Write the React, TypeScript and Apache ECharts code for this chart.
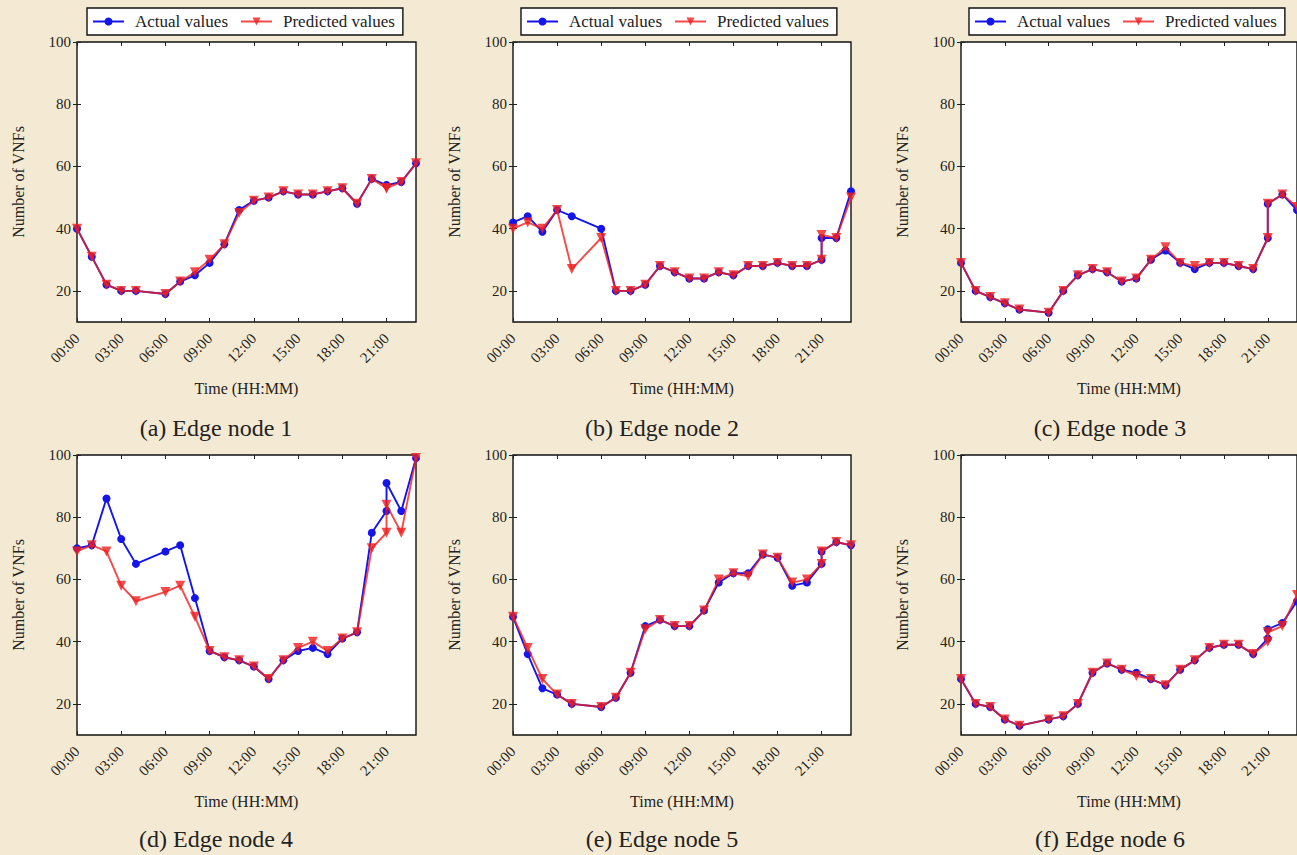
import React, { useEffect, useRef } from "react";
import * as echarts from "echarts";

// ---- data ----
const hours = [0, 1, 2, 3, 4, 6, 7, 8, 9, 10, 11, 12, 13, 14, 15, 16, 17, 18, 19, 20, 21, 21, 22, 23];
const xTicks = [0, 3, 6, 9, 12, 15, 18, 21];
const yTicks = [20, 40, 60, 80, 100];
const captions = ["(a) Edge node 1", "(b) Edge node 2", "(c) Edge node 3", "(d) Edge node 4", "(e) Edge node 5", "(f) Edge node 6"];
const seriesNames = ["Actual values", "Predicted values"];

const actual1 = [40, 31, 22, 20, 20, 19, 23, 25, 29, 35, 46, 49, 50, 52, 51, 51, 52, 53, 48, 56, 54, 54, 55, 61];
const predicted1 = [40, 31, 22, 20, 20, 19, 23, 26, 30, 35, 45, 49, 50, 52, 51, 51, 52, 53, 48, 56, 53, 53, 55, 61];

const actual2 = [42, 44, 39, 46, 44, 40, 20, 20, 22, 28, 26, 24, 24, 26, 25, 28, 28, 29, 28, 28, 30, 37, 37, 52];
const predicted2 = [40, 42, 40, 46, 27, 37, 20, 20, 22, 28, 26, 24, 24, 26, 25, 28, 28, 29, 28, 28, 30, 38, 37, 50];

const actual3 = [29, 20, 18, 16, 14, 13, 20, 25, 27, 26, 23, 24, 30, 33, 29, 27, 29, 29, 28, 27, 37, 48, 51, 46];
const predicted3 = [29, 20, 18, 16, 14, 13, 20, 25, 27, 26, 23, 24, 30, 34, 29, 28, 29, 29, 28, 27, 37, 48, 51, 47];

const actual4 = [70, 71, 86, 73, 65, 69, 71, 54, 37, 35, 34, 32, 28, 34, 37, 38, 36, 41, 43, 75, 82, 91, 82, 99];
const predicted4 = [69, 71, 69, 58, 53, 56, 58, 48, 37, 35, 34, 32, 28, 34, 38, 40, 37, 41, 43, 70, 75, 84, 75, 99];

const actual5 = [48, 36, 25, 23, 20, 19, 22, 30, 45, 47, 45, 45, 50, 59, 62, 62, 68, 67, 58, 59, 65, 69, 72, 71];
const predicted5 = [48, 38, 28, 23, 20, 19, 22, 30, 44, 47, 45, 45, 50, 60, 62, 61, 68, 67, 59, 60, 65, 69, 72, 71];

const actual6 = [28, 20, 19, 15, 13, 15, 16, 20, 30, 33, 31, 30, 28, 26, 31, 34, 38, 39, 39, 36, 41, 44, 46, 53];
const predicted6 = [28, 20, 19, 15, 13, 15, 16, 20, 30, 33, 31, 29, 28, 26, 31, 34, 38, 39, 39, 36, 40, 43, 45, 55];

const actualAll = [actual1, actual2, actual3, actual4, actual5, actual6];
const predictedAll = [predicted1, predicted2, predicted3, predicted4, predicted5, predicted6];

// ---- layout / style ----
const SERIF = '"Liberation Serif", "Times New Roman", Times, serif';
const BG = "#f4ead3";
const BLUE = "#1414ec";
const RED = "#f01e1e";
const cols = [
  { left: 77, width: 339, cap: 216, legend: 87 },
  { left: 513, width: 338, cap: 662, legend: 521 },
  { left: 961, width: 338, cap: 1110, legend: 969 },
];
const rows = [
  { top: 42, height: 280, cap: 428 },
  { top: 455, height: 280, cap: 839 },
];

const fmtHour = (v: number) => `${String(v).padStart(2, "0")}:00`;

function buildOption() {
  const grid: any[] = [];
  const xAxis: any[] = [];
  const yAxis: any[] = [];
  const series: any[] = [];
  const graphic: any[] = [];
  const legend: any[] = [];

  for (let i = 0; i < 6; i++) {
    const r = rows[Math.floor(i / 3)];
    const c = cols[i % 3];
    grid.push({
      left: c.left,
      top: r.top,
      width: c.width,
      height: r.height,
      show: true,
      backgroundColor: "#ffffff",
      borderColor: "#111",
      borderWidth: 1.4,
    });
    const tickStyle = { color: "#222", width: 1 };
    xAxis.push({
      type: "value",
      gridIndex: i,
      min: 0,
      max: 23,
      position: "bottom",
      axisLine: { show: false },
      axisTick: { show: true, inside: true, length: 4, customValues: xTicks, lineStyle: tickStyle },
      axisLabel: {
        customValues: xTicks,
        rotate: 45,
        margin: 14,
        formatter: (v: number) => fmtHour(v),
        fontFamily: SERIF,
        fontSize: 15,
        color: "#222",
      },
      splitLine: { show: false },
      name: "Time (HH:MM)",
      nameLocation: "middle",
      nameGap: 58,
      nameTextStyle: { fontFamily: SERIF, fontSize: 16, color: "#222" },
    });
    xAxis.push({
      type: "value",
      gridIndex: i,
      min: 0,
      max: 23,
      position: "top",
      axisLine: { show: false },
      axisTick: { show: true, inside: true, length: 4, customValues: xTicks, lineStyle: tickStyle },
      axisLabel: { show: false },
      splitLine: { show: false },
    });
    yAxis.push({
      type: "value",
      gridIndex: i,
      min: 10,
      max: 100,
      position: "left",
      axisLine: { show: false },
      axisTick: { show: true, inside: true, length: 4, customValues: yTicks, lineStyle: tickStyle },
      axisLabel: { customValues: yTicks, margin: 6, fontFamily: SERIF, fontSize: 15, color: "#222" },
      splitLine: { show: false },
      name: "Number of VNFs",
      nameLocation: "middle",
      nameRotate: 90,
      nameGap: 51,
      nameTextStyle: { fontFamily: SERIF, fontSize: 16, color: "#222" },
    });
    yAxis.push({
      type: "value",
      gridIndex: i,
      min: 10,
      max: 100,
      position: "right",
      axisLine: { show: false },
      axisTick: { show: true, inside: true, length: 4, customValues: yTicks, lineStyle: tickStyle },
      axisLabel: { show: false },
      splitLine: { show: false },
    });

    series.push({
      type: "line",
      name: seriesNames[0],
      xAxisIndex: 2 * i,
      yAxisIndex: 2 * i,
      data: hours.map((h, k) => [h, actualAll[i][k]]),
      symbol: "circle",
      symbolSize: 8,
      clip: false,
      lineStyle: { color: BLUE, width: 1.9 },
      itemStyle: { color: BLUE },
      z: 2,
    });
    series.push({
      type: "line",
      name: seriesNames[1],
      xAxisIndex: 2 * i,
      yAxisIndex: 2 * i,
      data: hours.map((h, k) => [h, predictedAll[i][k]]),
      symbol: "triangle",
      symbolRotate: 180,
      symbolSize: 10,
      clip: false,
      lineStyle: { color: RED, width: 1.9, opacity: 0.8 },
      itemStyle: { color: RED, opacity: 0.8 },
      z: 3,
    });

    graphic.push({
      type: "text",
      x: c.cap,
      y: r.cap,
      style: {
        text: captions[i],
        fontFamily: SERIF,
        fontSize: 24,
        fill: "#222",
        textAlign: "center",
        textVerticalAlign: "middle",
        align: "center",
        verticalAlign: "middle",
      },
    });
  }

  for (let j = 0; j < 3; j++) {
    legend.push({
      left: cols[j].legend,
      top: 8,
      orient: "horizontal",
      data: seriesNames,
      backgroundColor: "#ffffff",
      borderColor: "#111",
      borderWidth: 1.4,
      borderRadius: 0,
      padding: [5, 8, 5, 5],
      itemWidth: 31,
      itemHeight: 10,
      itemGap: 12,
      selectedMode: false,
      textStyle: { fontFamily: SERIF, fontSize: 17, color: "#222", padding: [0, 0, 0, 6] },
    });
  }

  return {
    animation: false,
    backgroundColor: BG,
    grid,
    xAxis,
    yAxis,
    series,
    legend,
    graphic,
  };
}

export default function App() {
  const ref = useRef<HTMLDivElement>(null);
  useEffect(() => {
    if (!ref.current) return;
    const chart = echarts.init(ref.current, undefined, { renderer: "svg" });
    chart.setOption(buildOption() as any);
    return () => chart.dispose();
  }, []);
  return (
    <div
      ref={ref}
      style={{ position: "absolute", left: 0, top: 0, width: 1297, height: 855, overflow: "hidden" }}
    />
  );
}
